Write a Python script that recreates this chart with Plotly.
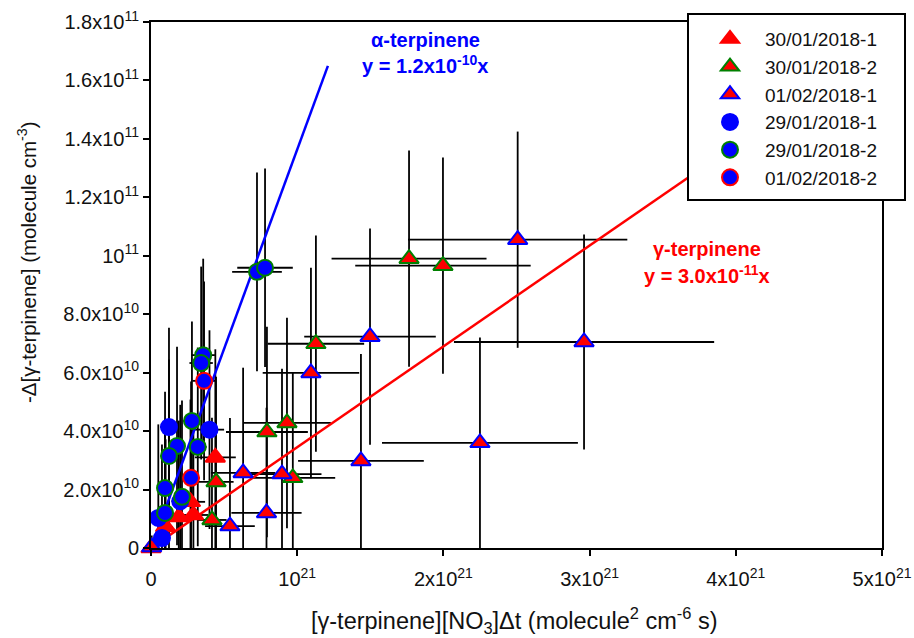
import plotly.graph_objects as go

# ---------------- data ----------------
# 30/01/2018-1  (gamma-terpinene, red triangles)
a_x = [0.0, 0.10e21, 0.19e21, 0.27e21, 0.29e21, 0.44e21]
a_y = [0.0, 0.72e10, 1.06e10, 1.58e10, 1.13e10, 3.10e10]
a_ex = [0.01e21, 0.05e21, 0.08e21, 0.10e21, 0.10e21, 0.14e21]
a_ey = [0.4e10, 3.0e10, 3.3e10, 3.5e10, 3.4e10, 3.7e10]

# 30/01/2018-2  (red triangles, green outline)
b_x = [1.765e21, 1.997e21, 1.128e21, 0.793e21, 0.93e21, 0.97e21, 0.445e21, 0.417e21]
b_y = [9.90e10, 9.66e10, 6.99e10, 3.97e10, 4.28e10, 2.40e10, 2.26e10, 0.96e10]
b_ex = [0.53e21, 0.60e21, 0.33e21, 0.28e21, 0.30e21, 0.29e21, 0.12e21, 0.10e21]
b_ey = [3.7e10, 3.7e10, 3.7e10, 3.6e10, 3.6e10, 3.6e10, 3.6e10, 3.5e10]

# 01/02/2018-1  (red triangles, blue outline)
c_x = [2.508e21, 2.962e21, 2.25e21, 1.498e21, 1.094e21, 1.436e21, 0.63e21, 0.896e21, 0.79e21, 0.54e21, 0.005e21]
c_y = [10.55e10, 7.05e10, 3.60e10, 7.23e10, 5.99e10, 2.98e10, 2.57e10, 2.53e10, 1.20e10, 0.75e10, 0.03e10]
c_ex = [0.75e21, 0.89e21, 0.67e21, 0.45e21, 0.33e21, 0.43e21, 0.22e21, 0.27e21, 0.24e21, 0.17e21, 0.01e21]
c_ey = [3.7e10, 3.68e10, 3.6e10, 3.7e10, 3.6e10, 3.66e10, 3.6e10, 3.6e10, 3.6e10, 3.7e10, 0.4e10]

# 29/01/2018-1  (alpha-terpinene, blue circles)
d_x = [0.123e21, 0.40e21, 0.20e21, 0.05e21, 0.075e21]
d_y = [4.14e10, 4.05e10, 1.60e10, 1.03e10, 0.34e10]
d_ex = [0.06e21, 0.10e21, 0.06e21, 0.03e21, 0.03e21]
d_ey = [3.4e10, 3.4e10, 3.3e10, 3.2e10, 3.2e10]

# 29/01/2018-2  (blue circles, green outline)
e_x = [0.725e21, 0.78e21, 0.357e21, 0.343e21, 0.28e21, 0.178e21, 0.32e21, 0.123e21, 0.096e21, 0.212e21, 0.096e21]
e_y = [9.45e10, 9.59e10, 6.60e10, 6.33e10, 4.35e10, 3.49e10, 3.46e10, 3.15e10, 2.05e10, 1.75e10, 1.20e10]
e_ex = [0.17e21, 0.19e21, 0.08e21, 0.08e21, 0.06e21, 0.05e21, 0.06e21, 0.04e21, 0.03e21, 0.05e21, 0.03e21]
e_ey = [3.4e10, 3.4e10, 3.3e10, 3.3e10, 3.4e10, 3.4e10, 3.4e10, 3.3e10, 3.3e10, 3.3e10, 3.2e10]

# 01/02/2018-2  (blue circles, red outline)
f_x = [0.363e21, 0.274e21]
f_y = [5.72e10, 2.40e10]
f_ex = [0.08e21, 0.06e21]
f_ey = [3.4e10, 3.3e10]

# fitted lines as drawn
alpha_fit_x = [0.0, 1.21e21]
alpha_fit_y = [0.0, 1.65e11]
gamma_fit_x = [0.0, 4.0e21]
gamma_fit_y = [0.0, 1.38e11]

# tick labels
x_tickvals = [0, 1e21, 2e21, 3e21, 4e21, 5e21]
x_ticktext = ["0", "10<sup>21</sup>", "2x10<sup>21</sup>", "3x10<sup>21</sup>", "4x10<sup>21</sup>", "5x10<sup>21</sup>"]
y_tickvals = [0, 2e10, 4e10, 6e10, 8e10, 1e11, 1.2e11, 1.4e11, 1.6e11, 1.8e11]
y_ticktext = ["0", "2.0x10<sup>10</sup>", "4.0x10<sup>10</sup>", "6.0x10<sup>10</sup>", "8.0x10<sup>10</sup>",
              "10<sup>11</sup>", "1.2x10<sup>11</sup>", "1.4x10<sup>11</sup>", "1.6x10<sup>11</sup>", "1.8x10<sup>11</sup>"]

series = [
    ("30/01/2018-1", a_x, a_y, a_ex, a_ey, "triangle-up", "#FF0000", "#FF0000"),
    ("30/01/2018-2", b_x, b_y, b_ex, b_ey, "triangle-up", "#FF0000", "#008000"),
    ("01/02/2018-1", c_x, c_y, c_ex, c_ey, "triangle-up", "#FF0000", "#0000FF"),
    ("29/01/2018-1", d_x, d_y, d_ex, d_ey, "circle", "#0000FF", "#0000FF"),
    ("29/01/2018-2", e_x, e_y, e_ex, e_ey, "circle", "#0000FF", "#008000"),
    ("01/02/2018-2", f_x, f_y, f_ex, f_ey, "circle", "#0000FF", "#FF0000"),
]

FONT = "Liberation Sans, Arial, sans-serif"
fig = go.Figure()

# error bars (behind everything)
for name, xs, ys, ex, ey, sym, fill, edge in series:
    fig.add_trace(go.Scatter(
        x=xs, y=ys, mode="markers", showlegend=False, hoverinfo="skip",
        marker=dict(size=1, color="rgba(0,0,0,0)"),
        error_x=dict(type="data", array=ex, color="black", thickness=1.8, width=0),
        error_y=dict(type="data", array=ey, color="black", thickness=1.8, width=0),
    ))

# fit lines
fig.add_trace(go.Scatter(x=alpha_fit_x, y=alpha_fit_y, mode="lines", showlegend=False,
                         line=dict(color="#0000FF", width=2.5)))
fig.add_trace(go.Scatter(x=gamma_fit_x, y=gamma_fit_y, mode="lines", showlegend=False,
                         line=dict(color="#FF0000", width=2.5)))

# markers
for name, xs, ys, ex, ey, sym, fill, edge in series:
    size = 17 if sym == "triangle-up" else 16
    fig.add_trace(go.Scatter(
        x=xs, y=ys, mode="markers", name=name, cliponaxis=False,
        marker=dict(symbol=sym, size=size, color=fill, line=dict(color=edge, width=2)),
    ))

# plot-area geometry (px) for paper conversions
L, R, T, B = 151, 882, 22, 548
def px(x):
    return (x - L) / (R - L)
def py(y):
    return (B - y) / (B - T)

axis_common = dict(showline=True, linewidth=2, linecolor="black", mirror=True,
                   ticks="outside", ticklen=6, tickwidth=1.5, tickcolor="black",
                   showgrid=False, zeroline=False, automargin=False,
                   tickfont=dict(family=FONT, size=20, color="#111"))

def ann(text, x, y, size, color, bold=False, angle=0):
    f = dict(family=FONT, size=size, color=color)
    if bold:
        f["weight"] = "bold"
    return dict(text=text, x=px(x), y=py(y), xref="paper", yref="paper", showarrow=False,
                xanchor="center", yanchor="middle", textangle=angle, font=f)

fig.update_layout(
    width=914, height=638,
    margin=dict(l=L, r=914 - R, t=T, b=638 - B, autoexpand=False),
    paper_bgcolor="white", plot_bgcolor="white",
    xaxis=dict(range=[0, 5e21], tickmode="array", tickvals=x_tickvals, ticktext=x_ticktext,
               ticklabelstandoff=6, **axis_common),
    yaxis=dict(range=[0, 1.8e11], tickmode="array", tickvals=y_tickvals, ticktext=y_ticktext,
               **axis_common),
    showlegend=True,
    legend=dict(x=px(695), y=py(20), xanchor="left", yanchor="top",
                bgcolor="rgba(0,0,0,0)", borderwidth=0, itemwidth=60,
                tracegroupgap=0,
                font=dict(family=FONT, size=19, color="#111")),
    shapes=[dict(type="rect", xref="paper", yref="paper",
                 x0=px(688), x1=px(905), y0=py(200), y1=py(14),
                 fillcolor="white", line=dict(color="black", width=2), layer="above")],
    annotations=[
        ann("α-terpinene", 425, 40, 20, "#0000FF", bold=True),
        ann("y = 1.2x10<sup>-10</sup>x", 425, 65, 20, "#0000FF", bold=True),
        ann("γ-terpinene", 707, 249, 20, "#FF0000", bold=True),
        ann("y = 3.0x10<sup>-11</sup>x", 707, 274, 20, "#FF0000", bold=True),
        ann("-Δ[γ-terpinene] (molecule cm<sup>-3</sup>)", 27, 262, 20.5, "#111", angle=-90),
        ann("[γ-terpinene][NO<sub>3</sub>]Δt (molecule<sup>2</sup> cm<sup>-6</sup> s)", 514, 620, 23.5, "#111"),
    ],
)

fig.write_html("out.html", config={"displayModeBar": False},
               post_script="document.body.style.margin='0px';")
